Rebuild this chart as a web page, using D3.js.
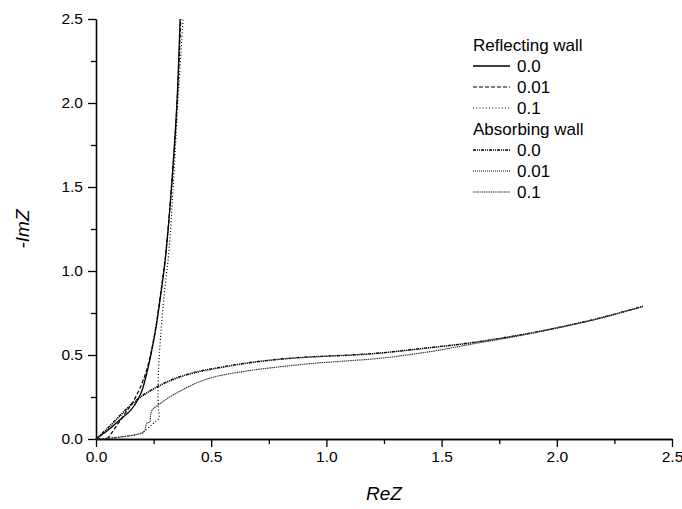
<!DOCTYPE html>
<html lang="en">
<head>
<meta charset="UTF-8">
<title>Impedance curves</title>
<script src="https://cdnjs.cloudflare.com/ajax/libs/d3/7.8.5/d3.min.js"></script>
<style>
  body { margin: 0; background: #fff; }
  text { font-family: "Liberation Sans", Arial, sans-serif; }
</style>
</head>
<body>
<div id="chart"></div>
<script>
  var w = 682, h = 509;
  var margin = {top: 19, right: 10, bottom: 70, left: 96};

  // tick labels
  var xTicks = [0, 0.5, 1.0, 1.5, 2.0, 2.5];
  var yTicks = [0, 0.5, 1.0, 1.5, 2.0, 2.5];
  var minorTicks = [0.25, 0.75, 1.25, 1.75, 2.25];

  // reflecting wall curves, [ReZ, -ImZ]
  var refl00 = [[0, 0], [0.05, 0.05], [0.1, 0.11], [0.15, 0.17], [0.18, 0.23], [0.2, 0.29],
    [0.22, 0.39], [0.235, 0.48], [0.26, 0.66], [0.28, 0.85], [0.3, 1.06], [0.32, 1.36],
    [0.338, 1.7], [0.352, 2.02], [0.365, 2.5]];
  var refl001 = [[0.048, 0], [0.07, 0.04], [0.1, 0.1], [0.13, 0.16], [0.16, 0.22], [0.19, 0.3],
    [0.215, 0.39], [0.235, 0.49], [0.26, 0.67], [0.28, 0.86], [0.3, 1.07], [0.32, 1.37],
    [0.339, 1.71], [0.353, 2.03], [0.368, 2.5]];
  var refl01 = [[0, 0], [0.05, 0.004], [0.1, 0.01], [0.15, 0.02], [0.2, 0.038], [0.23, 0.07],
    [0.255, 0.1], [0.273, 0.125], [0.27, 0.2], [0.271, 0.4], [0.28, 0.6], [0.296, 0.86],
    [0.317, 1.125], [0.335, 1.5], [0.356, 2.02], [0.378, 2.5]];

  // absorbing wall curves
  var abs00 = [[0, 0], [0.05, 0.065], [0.1, 0.135], [0.152, 0.205], [0.2, 0.258], [0.25, 0.3],
    [0.3, 0.336], [0.365, 0.372], [0.43, 0.398], [0.51, 0.42], [0.655, 0.453], [0.8, 0.476],
    [0.94, 0.49], [1.1, 0.5], [1.23, 0.512], [1.42, 0.54], [1.62, 0.572], [1.85, 0.622],
    [2.06, 0.68], [2.2, 0.725], [2.374, 0.79]];
  var abs001 = [[0, 0], [0.05, 0.06], [0.1, 0.13], [0.152, 0.2], [0.2, 0.253], [0.25, 0.296],
    [0.3, 0.332], [0.365, 0.368], [0.43, 0.394], [0.51, 0.416], [0.655, 0.45], [0.8, 0.474],
    [0.94, 0.488], [1.1, 0.498], [1.23, 0.51], [1.42, 0.538], [1.62, 0.57], [1.85, 0.62],
    [2.06, 0.678], [2.2, 0.723], [2.374, 0.789]];
  var abs01 = [[0, 0], [0.05, 0.004], [0.12, 0.015], [0.17, 0.025], [0.208, 0.042], [0.221, 0.095],
    [0.233, 0.1], [0.238, 0.15], [0.245, 0.175], [0.282, 0.214], [0.32, 0.25], [0.365, 0.285],
    [0.43, 0.33], [0.51, 0.368], [0.655, 0.405], [0.8, 0.43], [0.94, 0.45], [1.1, 0.466],
    [1.23, 0.48], [1.45, 0.52], [1.62, 0.562], [1.85, 0.618], [2.06, 0.678], [2.2, 0.723],
    [2.374, 0.789]];

  var legendGroups = ["Reflecting wall", "Absorbing wall"];
  var seriesLabels = ["0.0", "0.01", "0.1"];

  var series = [
    {data: refl00, dash: null, color: "#000", width: 1.3},
    {data: refl001, dash: "4,2", color: "#000", width: 1.2},
    {data: refl01, dash: "1,2.2", color: "#000", width: 1.2},
    {data: abs00, dash: "3,1,1,1,1,1", color: "#000", width: 1.3},
    {data: abs001, dash: "1,1", color: "#111", width: 1.2},
    {data: abs01, dash: "1.5,0.7", color: "#333", width: 1.1}
  ];

  var x = d3.scaleLinear().domain([0, 2.5]).range([margin.left, 672]);
  var y = d3.scaleLinear().domain([0, 2.5]).range([439, margin.top]);

  var svg = d3.select("#chart").append("svg")
    .attr("width", w)
    .attr("height", h);

  // minor ticks first, then major axis on top
  svg.append("g")
    .attr("transform", "translate(0,439)")
    .call(d3.axisBottom(x).tickValues(minorTicks).tickFormat("").tickSize(5).tickSizeOuter(0));
  svg.append("g")
    .attr("transform", "translate(" + margin.left + ",0)")
    .call(d3.axisLeft(y).tickValues(minorTicks).tickFormat("").tickSize(5).tickSizeOuter(0));

  svg.append("g")
    .attr("transform", "translate(0,439)")
    .call(d3.axisBottom(x).tickValues(xTicks).tickFormat(d3.format(".1f")).tickSize(8).tickPadding(4).tickSizeOuter(0));
  svg.append("g")
    .attr("transform", "translate(" + margin.left + ",0)")
    .call(d3.axisLeft(y).tickValues(yTicks).tickFormat(d3.format(".1f")).tickSize(8).tickPadding(5).tickSizeOuter(0));

  svg.selectAll(".domain, .tick line").attr("stroke", "#000").attr("stroke-width", 1.3);
  svg.selectAll(".tick text")
    .attr("font-family", "Liberation Sans, Arial, sans-serif")
    .attr("font-size", "15.5px")
    .attr("fill", "#000");

  // axis titles
  svg.append("text")
    .attr("x", 384)
    .attr("y", 500)
    .attr("text-anchor", "middle")
    .attr("font-size", "19px")
    .attr("font-style", "italic")
    .text("ReZ");
  svg.append("text")
    .attr("transform", "translate(29,229) rotate(-90)")
    .attr("text-anchor", "middle")
    .attr("font-size", "19px")
    .attr("font-style", "italic")
    .text("-ImZ");

  var line = d3.line()
    .x(function(d) { return x(d[0]); })
    .y(function(d) { return y(d[1]); })
    .curve(d3.curveCatmullRom.alpha(0.5));

  svg.selectAll("path.curve")
    .data(series)
    .enter()
    .append("path")
    .attr("class", "curve")
    .attr("d", function(d) { return line(d.data); })
    .attr("fill", "none")
    .attr("stroke", function(d) { return d.color; })
    .attr("stroke-width", function(d) { return d.width; })
    .attr("stroke-dasharray", function(d) { return d.dash; });

  // legend
  var legend = svg.append("g").attr("font-size", "17px");
  var rowH = 21, lx = 473, ly = 45;
  series.forEach(function(s, i) {
    var grp = Math.floor(i / 3);
    var row = i + grp + 1;
    if (i % 3 === 0) {
      legend.append("text")
        .attr("x", lx)
        .attr("y", ly + (row - 1) * rowH)
        .attr("dy", "0.35em")
        .text(legendGroups[grp]);
    }
    var yy = ly + row * rowH;
    legend.append("line")
      .attr("x1", lx).attr("x2", lx + 37)
      .attr("y1", yy).attr("y2", yy)
      .attr("stroke", s.color)
      .attr("stroke-width", s.width)
      .attr("stroke-dasharray", s.dash);
    legend.append("text")
      .attr("x", lx + 44)
      .attr("y", yy)
      .attr("dy", "0.35em")
      .text(seriesLabels[i % 3]);
  });
</script>
</body>
</html>
